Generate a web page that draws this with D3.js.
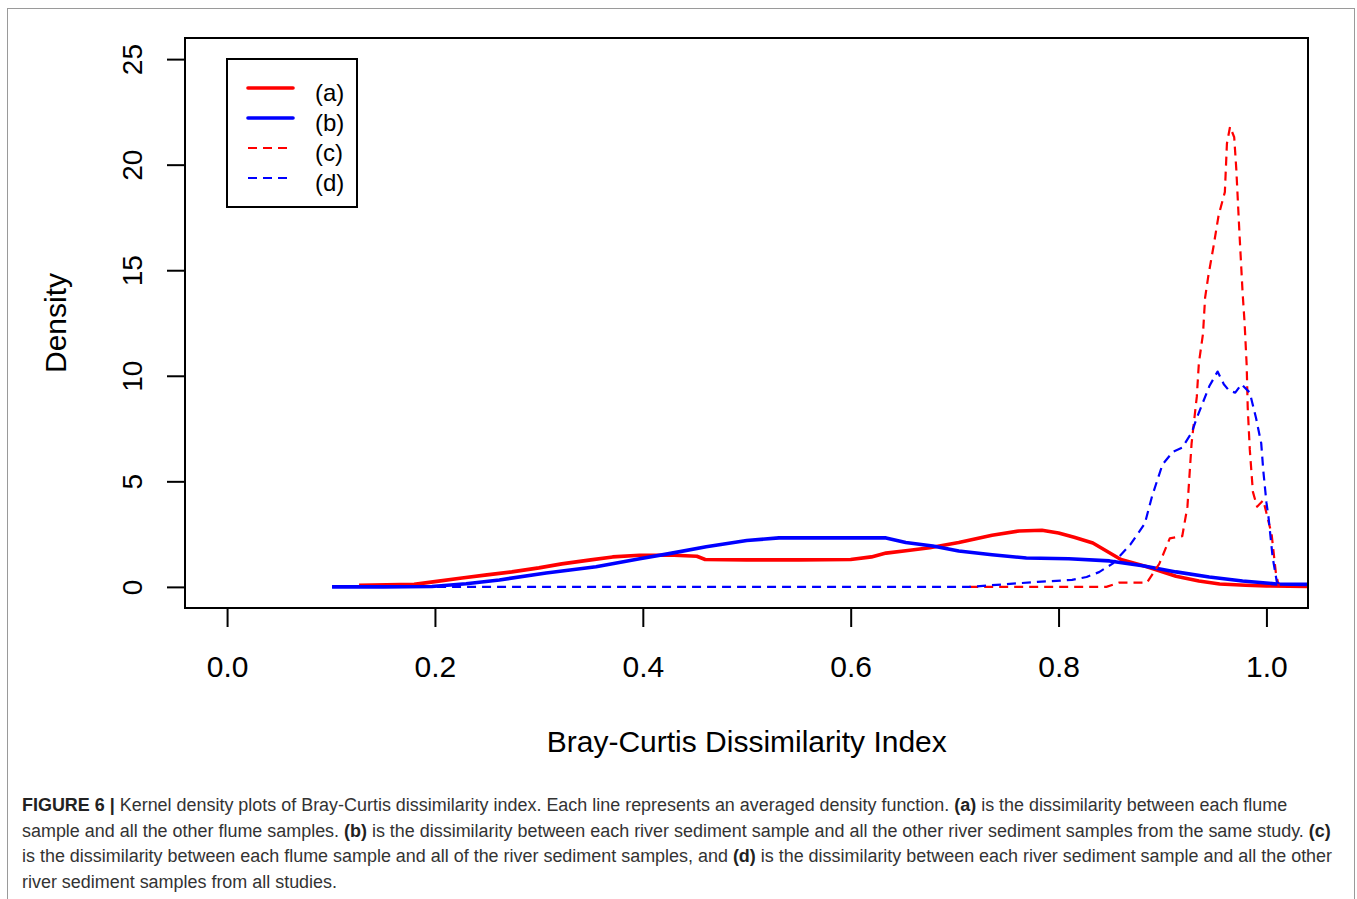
<!DOCTYPE html>
<html>
<head>
<meta charset="utf-8">
<script src="https://cdn.jsdelivr.net/npm/d3@7"></script>
<style>
  html, body { margin: 0; padding: 0; background: #fff; }
  svg { display: block; }
  text { font-family: "Liberation Sans", Arial, Helvetica, sans-serif; }
</style>
</head>
<body>
<script>
// ---------- data ----------
const xTicks = [0.0, 0.2, 0.4, 0.6, 0.8, 1.0];
const yTicks = [0, 5, 10, 15, 20, 25];
const seriesNames = ["(a)", "(b)", "(c)", "(d)"];
const seriesColors = ["#ff0000", "#0000ff", "#ff0000", "#0000ff"];
const seriesDashed = [false, false, true, true];

// (a) flume vs flume
const xA = [0.127,0.18,0.2,0.226,0.25,0.274,0.3,0.322,0.35,0.371,0.397,0.43,0.452,0.46,0.5,0.55,0.6,0.62,0.634,0.655,0.676,0.704,0.736,0.762,0.784,0.8,0.815,0.833,0.86,0.885,0.913,0.935,0.955,0.98,1.0,1.04];
const yA = [0.08,0.12,0.25,0.42,0.57,0.71,0.9,1.09,1.28,1.42,1.5,1.5,1.45,1.3,1.28,1.28,1.3,1.42,1.6,1.72,1.85,2.1,2.45,2.65,2.68,2.55,2.35,2.08,1.3,0.95,0.5,0.28,0.14,0.08,0.05,0.02];
// (b) river vs river, same study
const xB = [0.101,0.15,0.197,0.23,0.262,0.307,0.355,0.397,0.428,0.461,0.5,0.531,0.58,0.634,0.653,0.679,0.704,0.736,0.769,0.81,0.849,0.881,0.913,0.945,0.977,1.01,1.04];
const yB = [0,0,0.02,0.15,0.33,0.66,0.95,1.33,1.6,1.9,2.2,2.32,2.32,2.32,2.1,1.94,1.7,1.52,1.37,1.33,1.23,1.0,0.71,0.47,0.28,0.14,0.12];
// (c) flume vs river
const xC = [0.714,0.846,0.858,0.885,0.897,0.907,0.919,0.924,0.928,0.933,0.935,0.939,0.941,0.944,0.949,0.954,0.96,0.962,0.965,0.969,0.971,0.974,0.977,0.979,0.981,0.982,0.984,0.987,0.991,0.997,1.0,1.005,1.009,1.012];
const yC = [0,0,0.2,0.2,1.1,2.3,2.4,3.8,6.8,9.0,10.6,12.0,13.7,14.7,16.1,17.6,18.7,21.0,21.8,21.3,19.8,16.8,14.0,12.5,10.5,8.5,6.5,4.5,3.8,4.1,3.5,2.5,0.7,0];
// (d) river vs river, all studies
const xD = [0.101,0.714,0.78,0.813,0.827,0.839,0.852,0.869,0.883,0.89,0.9,0.91,0.919,0.928,0.933,0.945,0.953,0.959,0.964,0.97,0.976,0.984,0.99,0.995,0.997,1.0,1.002,1.006,1.01,1.015];
const yD = [0,0,0.24,0.33,0.47,0.7,1.1,2.0,3.0,4.3,5.8,6.4,6.6,7.3,8.0,9.5,10.2,9.6,9.3,9.2,9.6,9.2,8.0,6.8,5.5,4.0,3.3,1.4,0.24,0.05];

const xTitle = "Bray-Curtis Dissimilarity Index";
const yTitle = "Density";

// caption lines: [text, bold?] segments
const captionLines = [
  [["FIGURE 6 | ", true], ["Kernel density plots of Bray-Curtis dissimilarity index. Each line represents an averaged density function. ", false], ["(a)", true], [" is the dissimilarity between each flume", false]],
  [["sample and all the other flume samples. ", false], ["(b)", true], [" is the dissimilarity between each river sediment sample and all the other river sediment samples from the same study. ", false], ["(c)", true]],
  [["is the dissimilarity between each flume sample and all of the river sediment samples, and ", false], ["(d)", true], [" is the dissimilarity between each river sediment sample and all the other", false]],
  [["river sediment samples from all studies.", false]]
];

// ---------- layout ----------
const W = 1357, H = 899;
const box = { left: 185, top: 38, right: 1308, bottom: 608 };

const svg = d3.select("body").append("svg").attr("width", W).attr("height", H);

// outer figure frame
svg.append("rect").attr("x", 7.5).attr("y", 8.5).attr("width", 1347).attr("height", 905)
  .attr("fill", "none").attr("stroke", "#9a9a9a").attr("stroke-width", 1);

const x = d3.scaleLinear().domain([-0.04, 1.04]).range([box.left + 0.5, box.right]);
const y = d3.scaleLinear().domain([-1, 26]).range([box.bottom, box.top]);

// clip
svg.append("clipPath").attr("id", "clip").append("rect")
  .attr("x", box.left).attr("y", box.top)
  .attr("width", box.right - box.left).attr("height", box.bottom - box.top);

// series
const xs = [xA, xB, xC, xD], ys = [yA, yB, yC, yD];
const line = d3.line().x(d => x(d[0])).y(d => y(d[1]));
const g = svg.append("g").attr("clip-path", "url(#clip)");
xs.forEach((xv, i) => {
  const pts = xv.map((v, j) => [v, ys[i][j]]);
  g.append("path").datum(pts).attr("d", line)
    .attr("fill", "none")
    .attr("stroke", seriesColors[i])
    .attr("stroke-width", seriesDashed[i] ? 2.2 : 3.6)
    .attr("stroke-linejoin", "round")
    .attr("stroke-dasharray", seriesDashed[i] ? "9,6" : null);
});

// plot box
svg.append("rect").attr("x", box.left).attr("y", box.top)
  .attr("width", box.right - box.left).attr("height", box.bottom - box.top)
  .attr("fill", "none").attr("stroke", "#000").attr("stroke-width", 2);

// x axis
const xAxis = d3.axisBottom(x).tickValues(xTicks).tickFormat(d3.format(".1f")).tickSize(19).tickSizeOuter(0);
const gx = svg.append("g").attr("transform", `translate(0,${box.bottom})`).call(xAxis);
gx.select(".domain").attr("d", `M${x(xTicks[0])},0H${x(xTicks[xTicks.length-1])}`).attr("stroke", "#000").attr("stroke-width", 2);
gx.selectAll(".tick line").attr("stroke", "#000").attr("stroke-width", 2);
gx.selectAll(".tick text").attr("font-size", 30).attr("fill", "#000").attr("y", 69).attr("dy", 0)
  .attr("font-family", '"Liberation Sans", Arial, sans-serif');

// y axis
const yAxis = d3.axisLeft(y).tickValues(yTicks).tickFormat(d3.format("d")).tickSize(18).tickSizeOuter(0);
const gy = svg.append("g").attr("transform", `translate(${box.left},0)`).call(yAxis);
gy.select(".domain").attr("d", `M0,${y(yTicks[0])}V${y(yTicks[yTicks.length-1])}`).attr("stroke", "#000").attr("stroke-width", 2);
gy.selectAll(".tick line").attr("stroke", "#000").attr("stroke-width", 2);
gy.selectAll(".tick text").attr("font-size", 28).attr("fill", "#000")
  .attr("x", null).attr("dy", null)
  .attr("text-anchor", "middle")
  .attr("transform", "translate(-43,0) rotate(-90)")
  .attr("font-family", '"Liberation Sans", Arial, sans-serif');

// axis titles
svg.append("text").attr("x", (x(0) + x(1)) / 2 + 0).attr("y", 752)
  .attr("text-anchor", "middle").attr("font-size", 30).attr("fill", "#000").text(xTitle);
svg.append("text").attr("transform", `translate(66,${(y(0) + y(25)) / 2}) rotate(-90)`)
  .attr("text-anchor", "middle").attr("font-size", 30).attr("fill", "#000").text(yTitle);

// legend
const lg = svg.append("g");
lg.append("rect").attr("x", 227).attr("y", 59).attr("width", 130).attr("height", 148)
  .attr("fill", "#fff").attr("stroke", "#000").attr("stroke-width", 2);
seriesNames.forEach((name, i) => {
  const ly = 88 + i * 30;
  lg.append("line").attr("x1", 248).attr("x2", seriesDashed[i] ? 290 : 293)
    .attr("y1", ly).attr("y2", ly)
    .attr("stroke", seriesColors[i])
    .attr("stroke-width", seriesDashed[i] ? 2.2 : 3.6)
    .attr("stroke-linecap", seriesDashed[i] ? "butt" : "round")
    .attr("stroke-dasharray", seriesDashed[i] ? "9,6" : null);
  lg.append("text").attr("x", 315).attr("y", ly + 13).attr("font-size", 24).attr("fill", "#000").text(name);
});

// caption
const capG = svg.append("g");
const capBase = 811, capStep = 25.6;
const capTexts = captionLines.map((segs, i) => {
  const t = capG.append("text").attr("x", 22).attr("y", capBase + i * capStep)
    .attr("font-size", 17).attr("fill", "#333");
  segs.forEach(([s, b]) => {
    t.append("tspan").attr("font-weight", b ? "bold" : "normal").attr("fill", b ? "#222" : "#333").text(s);
  });
  return t;
});
// fit font so that the second line spans the caption width
const w2 = capTexts[1].node().getComputedTextLength();
const fs = 17 * 1310 / w2;
capTexts.forEach(t => t.attr("font-size", fs));
</script>
</body>
</html>
